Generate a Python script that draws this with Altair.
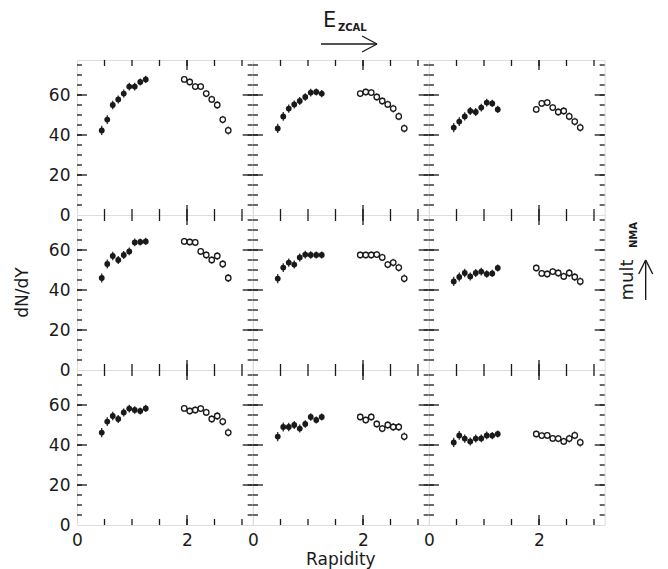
import altair as alt
import pandas as pd

# ---------------- data ----------------
x_filled = [0.45, 0.55, 0.65, 0.75, 0.85, 0.95, 1.05, 1.15, 1.25]
x_open = [1.95, 2.05, 2.15, 2.25, 2.35, 2.45, 2.55, 2.65, 2.75]

filled_r1c1 = [42.3, 47.7, 55.0, 57.8, 60.7, 64.2, 64.2, 66.5, 67.8]
filled_r1c2 = [43.3, 49.3, 53.2, 55.3, 57.0, 59.0, 61.2, 61.5, 60.7]
filled_r1c3 = [43.7, 46.7, 49.3, 52.0, 51.5, 53.7, 56.2, 55.8, 52.8]
filled_r2c1 = [46.0, 53.0, 57.0, 55.0, 57.5, 59.3, 63.8, 64.0, 64.3]
filled_r2c2 = [45.7, 51.2, 53.7, 52.7, 56.3, 57.7, 57.5, 57.5, 57.5]
filled_r2c3 = [44.3, 46.5, 48.5, 46.8, 48.5, 49.2, 48.0, 48.3, 51.0]
filled_r3c1 = [46.2, 51.7, 54.5, 53.0, 56.3, 58.2, 57.5, 57.0, 58.3]
filled_r3c2 = [44.2, 49.0, 49.0, 50.0, 48.2, 50.5, 54.0, 52.5, 54.0]
filled_r3c3 = [41.3, 44.8, 43.2, 41.8, 43.2, 43.3, 44.8, 44.7, 45.5]

open_r1c1 = [67.8, 66.5, 64.2, 64.2, 60.7, 57.8, 55.0, 47.7, 42.3]
open_r1c2 = [60.7, 61.5, 61.2, 59.0, 57.0, 55.3, 53.2, 49.3, 43.3]
open_r1c3 = [52.8, 55.8, 56.2, 53.7, 51.5, 52.0, 49.3, 46.7, 43.7]
open_r2c1 = [64.3, 64.0, 63.8, 59.3, 57.5, 55.0, 57.0, 53.0, 46.0]
open_r2c2 = [57.5, 57.5, 57.5, 57.7, 56.3, 52.7, 53.7, 51.2, 45.7]
open_r2c3 = [51.0, 48.3, 48.0, 49.2, 48.5, 46.8, 48.5, 46.5, 44.3]
open_r3c1 = [58.3, 57.0, 57.5, 58.2, 56.3, 53.0, 54.5, 51.7, 46.2]
open_r3c2 = [54.0, 52.5, 54.0, 50.5, 48.2, 50.0, 49.0, 49.0, 44.2]
open_r3c3 = [45.5, 44.7, 44.8, 43.3, 43.2, 41.8, 43.2, 44.8, 41.3]

err_filled = [2.3, 2.2, 2.1, 2.0, 2.0, 1.9, 1.9, 1.8, 1.8]
err_open = [1.6, 1.6, 1.7, 1.7, 1.8, 1.8, 1.9, 1.9, 2.0]

filled_all = [[filled_r1c1, filled_r1c2, filled_r1c3],
              [filled_r2c1, filled_r2c2, filled_r2c3],
              [filled_r3c1, filled_r3c2, filled_r3c3]]
open_all = [[open_r1c1, open_r1c2, open_r1c3],
            [open_r2c1, open_r2c2, open_r2c3],
            [open_r3c1, open_r3c2, open_r3c3]]

x_minor_ticks = [0.5, 1.0, 1.5, 2.0, 2.5, 3.0]
x_major_ticks = [2.0]
y_minor_ticks = [5, 10, 15, 20, 25, 30, 35, 40, 45, 50, 55, 60, 65, 70, 75]
y_major_ticks = [20, 40, 60]
x_tick_labels = [0, 2]
y_tick_labels = [0, 20, 40, 60]

y_title = "dN/dY"
x_title = "Rapidity"
top_label = "E"
top_sub = "ZCAL"
right_label = "mult"
right_sub = "NMA"

# ---------------- styling ----------------
FONT = "DejaVu Sans"
INK = "#1a1a1a"
W, H = 175.67, 155
XS = alt.Scale(domain=[0, 3.194], nice=False, zero=False)
YS = alt.Scale(domain=[0, 77.5], nice=False, zero=False)
one = pd.DataFrame({"k": [0]})


def tick_layer(vals, length, side, xaxis, yaxis):
    d = pd.DataFrame({"v": vals})
    ch = alt.Chart(d).mark_rule(color=INK, strokeWidth=1.3)
    if side == "bottom":
        return ch.encode(x=alt.X("v:Q", scale=XS, axis=xaxis),
                         y=alt.value(H), y2=alt.value(H - length))
    if side == "top":
        return ch.encode(x=alt.X("v:Q", scale=XS, axis=xaxis),
                         y=alt.value(0), y2=alt.value(length))
    if side == "left":
        return ch.encode(y=alt.Y("v:Q", scale=YS, axis=yaxis),
                         x=alt.value(0), x2=alt.value(length))
    return ch.encode(y=alt.Y("v:Q", scale=YS, axis=yaxis),
                     x=alt.value(W), x2=alt.value(W - length))


def text_layer(txt, x, y, size, angle=0, align="left", weight="normal"):
    d = pd.DataFrame({"t": [txt]})
    return alt.Chart(d).mark_text(font=FONT, fontSize=size, color=INK, align=align,
                                  baseline="alphabetic", angle=angle,
                                  fontWeight=weight).encode(
        text="t:N", x=alt.value(x), y=alt.value(y))


def seg(x1, y1, x2, y2, w=1.4):
    return alt.Chart(one).mark_rule(color=INK, strokeWidth=w).encode(
        x=alt.value(x1), y=alt.value(y1), x2=alt.value(x2), y2=alt.value(y2))


def panel(r, c):
    f = filled_all[r][c]
    o = open_all[r][c]
    df = pd.DataFrame({
        "x": x_filled + x_open,
        "y": f + o,
        "kind": ["filled"] * len(f) + ["open"] * len(o),
        "err": err_filled + err_open,
    })
    df["lo"] = df["y"] - df["err"]
    df["hi"] = df["y"] + df["err"]

    if r == 2:
        xaxis = alt.Axis(values=x_tick_labels, ticks=False, domain=False, grid=False,
                         labelFontSize=17, labelFont=FONT, labelColor=INK,
                         labelPadding=7, labelFlush=False, title=None, format="d")
    else:
        xaxis = None
    if c == 0:
        yaxis = alt.Axis(values=y_tick_labels, ticks=False, domain=False, grid=False,
                         labelFontSize=17, labelFont=FONT, labelColor=INK,
                         labelPadding=7, labelFlush=False, title=None, format="d")
    else:
        yaxis = None

    base = alt.Chart(df)
    pf = base.transform_filter("datum.kind == 'filled'").mark_point(
        shape="circle", filled=True, size=34, color=INK, opacity=1).encode(
        x=alt.X("x:Q", scale=XS, axis=xaxis),
        y=alt.Y("y:Q", scale=YS, axis=yaxis))
    errs = base.mark_rule(color=INK, strokeWidth=1.2).encode(
        x=alt.X("x:Q", scale=XS, axis=xaxis),
        y=alt.Y("lo:Q", scale=YS, axis=yaxis), y2="hi:Q")
    po = base.transform_filter("datum.kind == 'open'").mark_point(
        shape="circle", filled=False, size=30, color=INK, strokeWidth=1.3,
        fill="white", fillOpacity=1, opacity=1).encode(
        x=alt.X("x:Q", scale=XS, axis=xaxis),
        y=alt.Y("y:Q", scale=YS, axis=yaxis))

    layers = [
        pf, errs, po,
        tick_layer(x_minor_ticks, 6, "bottom", xaxis, yaxis),
        tick_layer(x_major_ticks, 10, "bottom", xaxis, yaxis),
        tick_layer(x_minor_ticks, 6, "top", xaxis, yaxis),
        tick_layer(x_major_ticks, 10, "top", xaxis, yaxis),
        tick_layer(y_minor_ticks, 5, "left", xaxis, yaxis),
        tick_layer(y_major_ticks, 10, "left", xaxis, yaxis),
        tick_layer(y_minor_ticks, 5, "right", xaxis, yaxis),
        tick_layer(y_major_ticks, 10, "right", xaxis, yaxis),
    ]
    if r == 0 and c == 0:
        anchor = alt.Chart(one).mark_rule(opacity=0, strokeWidth=1).encode(
            x=alt.value(-76.5), y=alt.value(-59.5), x2=alt.value(-76.5), y2=alt.value(-59.5))
        layers.append(anchor)
    if r == 0 and c == 1:
        layers += [
            text_layer(top_label, 70, -33, 21),
            text_layer(top_sub, 85, -29, 10, weight="bold"),
            seg(68, -16, 124, -16), seg(124, -16, 109, -24), seg(124, -16, 109, -8),
        ]
    if r == 1 and c == 2:
        layers += [
            text_layer(right_label, W + 28, 65, 18, angle=270, align="center"),
            text_layer(right_sub, W + 32, 20, 10, angle=270, align="center", weight="bold"),
            seg(W + 41, 85, W + 41, 45), seg(W + 41, 45, W + 34, 59), seg(W + 41, 45, W + 48, 59),
        ]
    if r == 1 and c == 0:
        layers.append(text_layer(y_title, -49, H / 2, 17, angle=270, align="center"))
    if r == 2 and c == 1:
        layers.append(text_layer(x_title, W / 2, 195, 17, align="center"))

    return alt.layer(*layers).properties(width=W, height=H)


panels = [panel(r, c) for r in range(3) for c in range(3)]

chart = alt.concat(*panels, columns=3, spacing=0, bounds="flush").properties(
    padding=0
).configure_view(stroke=INK, strokeWidth=1.6).configure(background="white")

chart.save("out.html", embed_options={"renderer": "svg", "actions": False})
